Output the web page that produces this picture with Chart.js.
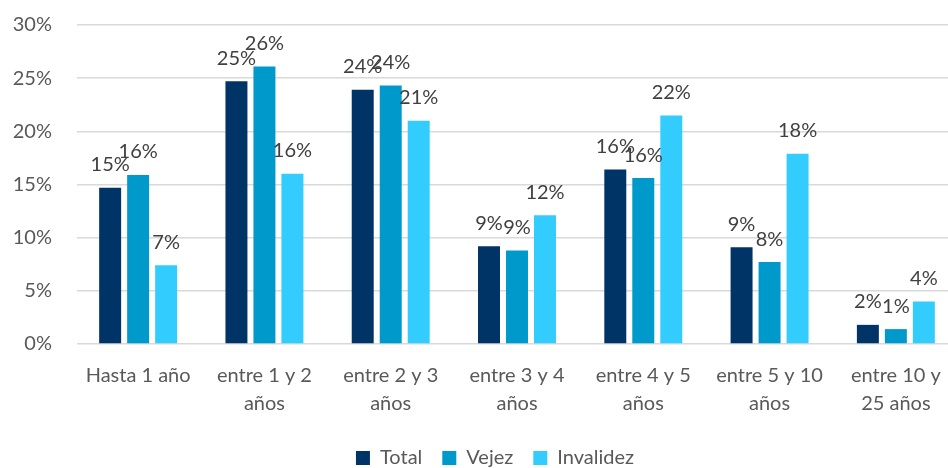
<!DOCTYPE html>
<html>
<head>
<meta charset="utf-8">
<script src="https://cdn.jsdelivr.net/npm/chart.js@4"></script>
<style>
  html, body { margin: 0; padding: 0; background: #fff; }
  #wrap { width: 948px; height: 468px; }
</style>
</head>
<body>
<div id="wrap"><canvas id="chart" width="948" height="468"></canvas></div>
<script>
// categories (multi-line like the original)
const categories = [
    'Hasta 1 año',
    ['entre 1 y 2', 'años'],
    ['entre 2 y 3', 'años'],
    ['entre 3 y 4', 'años'],
    ['entre 4 y 5', 'años'],
    ['entre 5 y 10', 'años'],
    ['entre 10 y', '25 años']
];

// values in percent
const totalValues = [14.7, 24.7, 23.9, 9.2, 16.4, 9.1, 1.8];
const vejezValues = [15.9, 26.1, 24.3, 8.8, 15.6, 7.7, 1.4];
const invalidezValues = [7.4, 16.0, 21.0, 12.1, 21.5, 17.9, 4.0];

const yTicks = [0, 5, 10, 15, 20, 25, 30];

const FONT = 'Lato, "Open Sans", sans-serif';

// draws the rounded % labels above each bar
const barLabels = {
    id: 'barLabels',
    afterDatasetsDraw(chart) {
        const ctx = chart.ctx;
        ctx.save();
        ctx.font = '20px ' + FONT;
        ctx.fillStyle = '#404040';
        ctx.textAlign = 'center';
        ctx.textBaseline = 'middle';
        chart.data.datasets.forEach((ds, i) => {
            const meta = chart.getDatasetMeta(i);
            meta.data.forEach((bar, j) => {
                ctx.fillText(Math.round(ds.data[j]) + '%', bar.x, bar.y - 23);
            });
        });
        ctx.restore();
    }
};

// the original plot area runs past the right edge of the picture,
// and its legend sits a bit right of the canvas centre
const layoutTweaks = {
    id: 'layoutTweaks',
    afterLayout(chart) {
        const x = chart.scales.x;
        x.left = 75;
        x.right = 959;
        x.width = x.right - x.left;
        x.configure();
        chart.legend.left += 21;
        chart.legend.right += 21;
    }
};

const ctx = document.getElementById('chart').getContext('2d');
const chart = new Chart(ctx, {
    type: 'bar',
    data: {
        labels: categories,
        datasets: [
            { label: 'Total', data: totalValues, backgroundColor: '#003366' },
            { label: 'Vejez', data: vejezValues, backgroundColor: '#0099CC' },
            { label: 'Invalidez', data: invalidezValues, backgroundColor: '#33CCFF' }
        ]
    },
    options: {
        responsive: false,
        animation: false,
        categoryPercentage: 0.665,
        barPercentage: 0.785,
        layout: { padding: { top: 0, left: 0, right: 0, bottom: -10 } },
        plugins: {
            tooltip: { enabled: false },
            legend: {
                position: 'bottom',
                labels: {
                    font: { family: FONT, size: 20 },
                    color: '#595959',
                    boxWidth: 14,
                    boxHeight: 14,
                    padding: 20
                }
            }
        },
        scales: {
            x: {
                grid: { display: false },
                border: { display: false },
                ticks: {
                    font: { family: FONT, size: 20, lineHeight: 1.4 },
                    color: '#595959',
                    maxRotation: 0,
                    padding: 10
                }
            },
            y: {
                min: 0,
                max: 30,
                afterBuildTicks: axis => { axis.ticks = yTicks.map(v => ({ value: v })); },
                afterFit: axis => { axis.width = 77; axis.paddingTop = 25; },
                grid: { color: '#d9d9d9', lineWidth: 1.5, drawTicks: false },
                border: { display: false },
                ticks: {
                    font: { family: FONT, size: 20 },
                    color: '#595959',
                    padding: 25,
                    callback: v => v + '%'
                }
            }
        }
    },
    plugins: [barLabels, layoutTweaks]
});
</script>
</body>
</html>
